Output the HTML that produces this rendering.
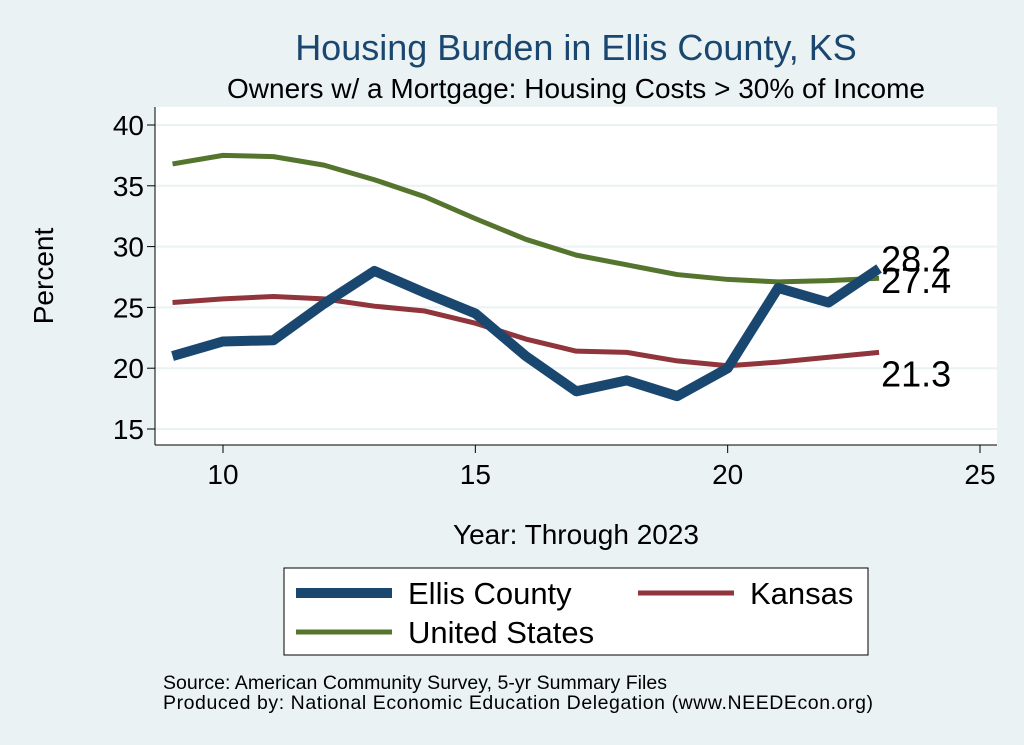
<!DOCTYPE html>
<html><head><meta charset="utf-8"><style>
body{margin:0;background:#eaf2f3;}
svg{display:block;font-family:"Liberation Sans",Arial,sans-serif;}
</style></head><body>
<svg id="c" width="1024" height="745">
<rect x="0" y="0" width="1024" height="745" fill="#eaf2f3"/>
<text x="576" y="60" font-size="36" fill="#1a476f" text-anchor="middle">Housing Burden in Ellis County, KS</text>
<text x="576" y="98" font-size="28" fill="#000" text-anchor="middle">Owners w/ a Mortgage: Housing Costs &gt; 30% of Income</text>
<rect x="155" y="107" width="842" height="338" fill="#fff"/>
<g id="grid"></g><g id="axes"></g><g id="series"></g>
<text x="53" y="276" font-size="28" text-anchor="middle" transform="rotate(-90 53 276)">Percent</text>
<text x="576" y="544" font-size="28" text-anchor="middle">Year: Through 2023</text>
<g>
<rect x="284" y="568" width="584" height="87" fill="#fff" stroke="#000" stroke-width="1"/>
<g><line x1="296" y1="593" x2="392" y2="593" stroke="#1a476f" stroke-width="10"/><text x="408" y="604" font-size="31">Ellis County</text></g>
<g><line x1="638" y1="593" x2="734" y2="593" stroke="#90353b" stroke-width="5"/><text x="750" y="604" font-size="31">Kansas</text></g>
<g><line x1="296" y1="632" x2="392" y2="632" stroke="#55752f" stroke-width="5"/><text x="408" y="643" font-size="31">United States</text></g>
</g>
<text x="163" y="689" font-size="19.5" textLength="504">Source: American Community Survey, 5-yr Summary Files</text>
<text x="163" y="709" font-size="19.5" textLength="710">Produced by: National Economic Education Delegation (www.NEEDEcon.org)</text>
</svg>
<script>
const years=[9,10,11,12,13,14,15,16,17,18,19,20,21,22,23];
const ellis=[21.0,22.2,22.3,25.3,28.0,26.2,24.5,21.0,18.1,19.0,17.7,20.0,26.6,25.4,28.2];
const kansas=[25.4,25.7,25.9,25.7,25.1,24.7,23.7,22.4,21.4,21.3,20.6,20.2,20.5,20.9,21.3];
const us=[36.8,37.5,37.4,36.7,35.5,34.1,32.3,30.6,29.3,28.5,27.7,27.3,27.1,27.2,27.4];
const yTicks=[15,20,25,30,35,40];
const xTicks=[10,15,20,25];
const NS="http://www.w3.org/2000/svg";
function X(v){return 223+(v-10)*(980-223)/15;}
function Y(v){return 429-(v-15)*(429-125)/25;}
function mk(t,a,p){const e=document.createElementNS(NS,t);for(const k in a)e.setAttribute(k,a[k]);p.appendChild(e);return e;}
const grid=document.getElementById('grid'),axes=document.getElementById('axes'),ser=document.getElementById('series');
yTicks.forEach(v=>{
 const g=mk('line',{x1:155,x2:997,y1:Y(v),y2:Y(v),stroke:'#eaf2f3','stroke-width':2},grid);
 
 
 const t=mk('line',{x1:147,x2:155,y1:Y(v),y2:Y(v),stroke:'#000'},axes);
 
 
 const l=mk('text',{x:144,y:Y(v)+10,'font-size':28,'text-anchor':'end'},axes);l.textContent=v;
 
 
});
xTicks.forEach(v=>{
 const t=mk('line',{x1:X(v),x2:X(v),y1:445,y2:453,stroke:'#000'},axes);
 
 
 const l=mk('text',{x:X(v),y:484,'font-size':28,'text-anchor':'middle'},axes);l.textContent=v;
 
 
});
const ya=mk('line',{x1:155,x2:155,y1:107,y2:445,stroke:'#000'},axes);


const xa=mk('line',{x1:155,x2:997,y1:445,y2:445,stroke:'#000'},axes);


function line(d,c,w,name){
 const p=mk('polyline',{points:d.map((v,i)=>X(years[i])+','+Y(v)).join(' '),fill:'none',stroke:c,'stroke-width':w,'stroke-linejoin':'round'},ser);
 
 
}
line(kansas,'#90353b',5,'kansas-line');
line(us,'#55752f',5,'us-line');
line(ellis,'#1a476f',10,'ellis-line');
const last=years.length-1;
[[ellis,3],[us,15],[kansas,34]].forEach(([d,off],i)=>{
 const l=mk('text',{x:X(years[last])+2,y:Y(d[last])+off,'font-size':36},ser);
 l.textContent=d[last].toFixed(1);
 
 
});
</script>
</body></html>
